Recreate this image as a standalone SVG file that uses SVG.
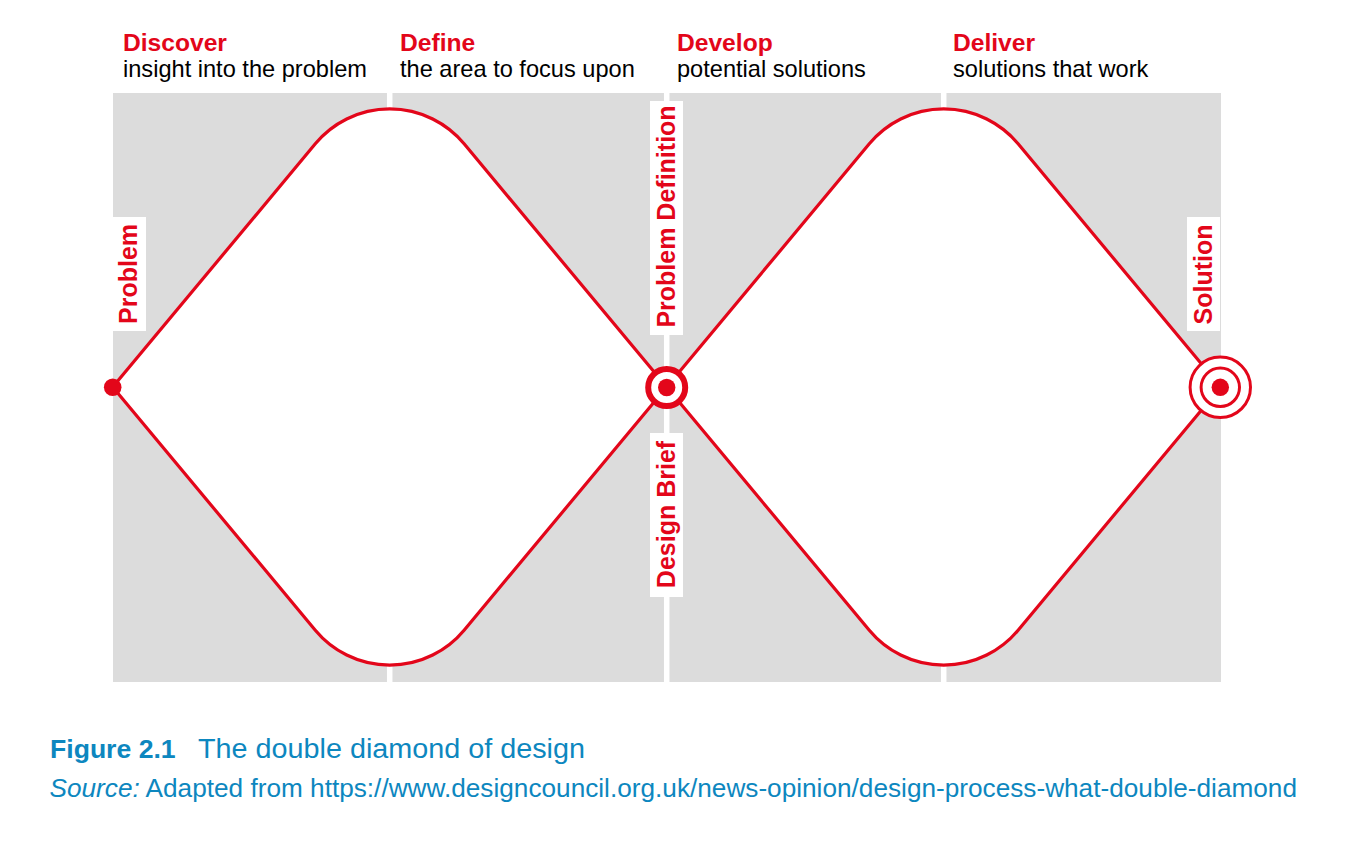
<svg xmlns="http://www.w3.org/2000/svg" width="1345" height="861" viewBox="0 0 1345 861">
  <style>
    .red { fill: #e3061a; }
    .hd { font-family: "Liberation Sans", Arial, sans-serif; font-weight: bold; font-size: 24.6px; fill: #e3061a; }
    .sub { font-family: "Liberation Sans", Arial, sans-serif; font-size: 23.6px; fill: #000; }
    .lbl { font-family: "Liberation Sans", Arial, sans-serif; font-weight: bold; font-size: 25px; fill: #e3061a; text-anchor: middle; }
    .box { fill: #ffffff; }
    .divider { stroke: #ffffff; stroke-width: 5.5; }
    .diamond { fill: #ffffff; stroke: #e3061a; stroke-width: 3.2; stroke-linejoin: round; }
    .cap { font-family: "Liberation Sans", Arial, sans-serif; fill: #0d87bf; }
  </style>

  <!-- phase band -->
  <g id="background">
    <rect x="113" y="93" width="1108" height="589" fill="#dcdcdc"/>
    <line class="divider" x1="389.7" y1="93" x2="389.7" y2="682"/>
    <line class="divider" x1="666.7" y1="93" x2="666.7" y2="682"/>
    <line class="divider" x1="943.7" y1="93" x2="943.7" y2="682"/>
  </g>

  <!-- phase headings -->
  <g id="phase-discover">
    <text class="hd" x="123" y="51">Discover</text>
    <text class="sub" x="123" y="77">insight into the problem</text>
  </g>
  <g id="phase-define">
    <text class="hd" x="400" y="51">Define</text>
    <text class="sub" x="400" y="77">the area to focus upon</text>
  </g>
  <g id="phase-develop">
    <text class="hd" x="677" y="51">Develop</text>
    <text class="sub" x="677" y="77">potential solutions</text>
  </g>
  <g id="phase-deliver">
    <text class="hd" x="953" y="51">Deliver</text>
    <text class="sub" x="953" y="77">solutions that work</text>
  </g>

  <!-- diverge / converge outlines: straight flanks, rounded top and bottom -->
  <g id="connectors">
    <path id="diamond-1" class="diamond" d="M112.7,387 L315.3,143.8 A96.8,96.8 0 0 1 464.1,143.8 L666.7,387 L464.1,630.2 A96.8,96.8 0 0 1 315.3,630.2 Z"/>
    <path id="diamond-2" class="diamond" d="M666.7,387 L869.3,143.8 A96.8,96.8 0 0 1 1018.1,143.8 L1220.7,387 L1018.1,630.2 A96.8,96.8 0 0 1 869.3,630.2 Z"/>
  </g>

  <!-- milestone: problem -->
  <g id="node-problem">
    <rect class="box" x="113" y="217" width="33" height="114"/>
    <text class="lbl" transform="translate(137,274) rotate(-90)">Problem</text>
    <circle class="red" cx="112.7" cy="387.3" r="8.8"/>
  </g>

  <!-- milestone: problem definition / design brief -->
  <g id="node-brief">
    <rect class="box" x="650" y="101" width="33" height="234"/>
    <text class="lbl" transform="translate(674.5,216.5) rotate(-90)">Problem Definition</text>
    <rect class="box" x="650" y="433" width="33" height="164"/>
    <text class="lbl" transform="translate(674.5,514.5) rotate(-90)">Design Brief</text>
    <circle cx="666.7" cy="387.5" r="18.5" fill="#ffffff" stroke="#e3061a" stroke-width="6"/>
    <circle class="red" cx="666.7" cy="387.5" r="8.7"/>
  </g>

  <!-- milestone: solution -->
  <g id="node-solution">
    <rect class="box" x="1187" y="217" width="33" height="114"/>
    <text class="lbl" transform="translate(1211.5,274.5) rotate(-90)">Solution</text>
    <circle cx="1220.3" cy="387.3" r="30.2" fill="#ffffff" stroke="#e3061a" stroke-width="3"/>
    <circle cx="1220.3" cy="387.3" r="19.2" fill="#ffffff" stroke="#e3061a" stroke-width="3"/>
    <circle class="red" cx="1220.3" cy="387.3" r="8.7"/>
  </g>

  <!-- caption -->
  <g id="caption">
    <text class="cap" x="50" y="758.3" font-size="26.6" font-weight="bold">Figure 2.1</text>
    <text class="cap" x="198" y="758.3" font-size="27" textLength="387" lengthAdjust="spacingAndGlyphs">The double diamond of design</text>
    <text class="cap" x="49.5" y="796.7" font-size="26.2"><tspan font-style="italic">Source:</tspan> Adapted from https://www.designcouncil.org.uk/news-opinion/design-process-what-double-diamond</text>
  </g>
</svg>
